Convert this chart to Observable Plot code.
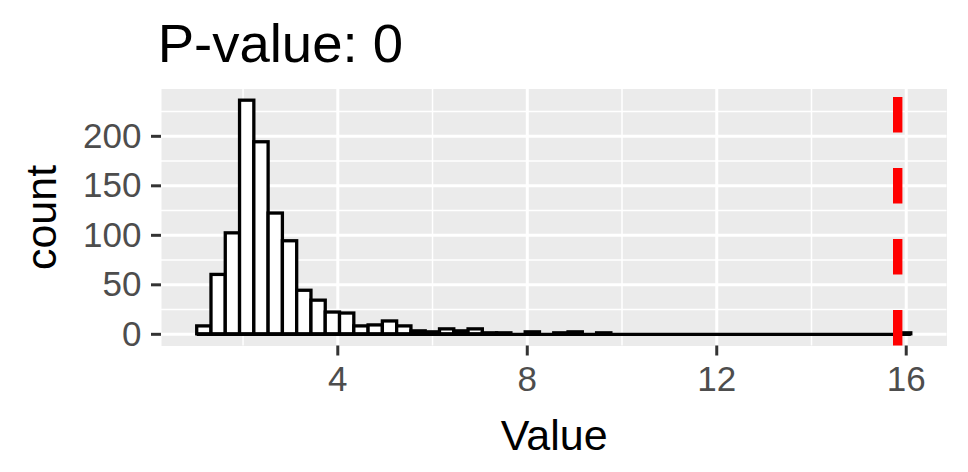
<!DOCTYPE html>
<html><head><meta charset="utf-8">
<script src="https://cdn.jsdelivr.net/npm/d3@7"></script>
<script src="https://cdn.jsdelivr.net/npm/@observablehq/plot@0.6"></script>
<style>body{margin:0;background:#fff} #chart svg{display:block}</style>
</head><body><div id="chart"></div>
<script>
const titleText = "P-value: 0";
const xLabel = "Value";
const yLabel = "count";
const binStart = 1.032;
const binWidth = 0.3015;
const counts = [8, 60, 102, 236, 194, 122, 94, 44, 34, 22,
                21, 8, 9, 13, 8, 3, 2, 5, 3, 5,
                1, 1, 0, 2, 0, 1, 2, 0, 1, 0,
                0, 0, 0, 0, 0, 0, 0, 0, 0, 0,
                0, 0, 0, 0, 0, 0, 0, 0, 0, 1];
const observed = [15.82];
const xTicks = [4, 8, 12, 16];
const xMinor = [2, 6, 10, 14];
const yTicks = [0, 50, 100, 150, 200];
const yMinor = [25, 75, 125, 175, 225];

const bins = counts.map((c, i) => ({x1: binStart + i * binWidth, x2: binStart + (i + 1) * binWidth, count: c}));
const lo = Math.min(bins[0].x1, ...observed), hi = Math.max(bins[bins.length - 1].x2, ...observed);
const xDomain = [lo - 0.05 * (hi - lo), hi + 0.05 * (hi - lo)];
const yMax = Math.max(...counts);
const yDomain = [-0.05 * yMax, 1.05 * yMax];
const font = "'Liberation Sans', Arial, Helvetica, sans-serif";

const chart = Plot.plot({
  width: 968, height: 472,
  marginLeft: 161, marginRight: 21.5, marginTop: 88.5, marginBottom: 126.5,
  x: {domain: xDomain, axis: null},
  y: {domain: yDomain, axis: null},
  style: {fontFamily: font, background: "#fff", color: "#000"},
  marks: [
    Plot.frame({fill: "#EBEBEB", stroke: "none"}),
    Plot.gridY(yMinor, {stroke: "#fff", strokeOpacity: 1, strokeWidth: 1.5}),
    Plot.gridX(xMinor, {stroke: "#fff", strokeOpacity: 1, strokeWidth: 1.5}),
    Plot.gridY(yTicks, {stroke: "#fff", strokeOpacity: 1, strokeWidth: 3}),
    Plot.gridX(xTicks, {stroke: "#fff", strokeOpacity: 1, strokeWidth: 3}),
    Plot.rect(bins, {x1: "x1", x2: "x2", y1: () => 0, y2: "count", fill: "#fff", stroke: "#000", strokeWidth: 3.3}),
    Plot.ruleY([{y: 0, x1: bins[0].x1, x2: bins[bins.length - 1].x2}], {y: "y", x1: "x1", x2: "x2", stroke: "#000", strokeWidth: 3.3}),
    Plot.ruleX(observed, {x: d => d, y1: () => yDomain[0], y2: () => yDomain[1], stroke: "#FF0000", strokeWidth: 9.4, strokeDasharray: "35.5,35.5"}),
    Plot.axisX(xTicks, {anchor: "bottom", tickSize: 10, tickPadding: 10, fontSize: 35, stroke: "#333333", fill: "#4D4D4D", strokeWidth: 3, label: null}),
    Plot.axisY(yTicks, {anchor: "left", tickSize: 10, tickPadding: 10, fontSize: 35, stroke: "#333333", fill: "#4D4D4D", strokeWidth: 3, label: null}),
    Plot.text([titleText], {text: d => d, frameAnchor: "top-left", textAnchor: "start", lineAnchor: "bottom", dx: -3.8, dy: -26.8, fontSize: 54.5, fill: "#000"}),
    Plot.text([yLabel], {text: d => d, frameAnchor: "left", textAnchor: "middle", rotate: -90, lineAnchor: "bottom", dx: -106, fontSize: 43, fill: "#000"}),
    Plot.text([xLabel], {text: d => d, frameAnchor: "bottom", textAnchor: "middle", lineAnchor: "bottom", dy: 104, fontSize: 43, fill: "#000"})
  ]
});
document.getElementById("chart").appendChild(chart);
</script>
</body></html>
